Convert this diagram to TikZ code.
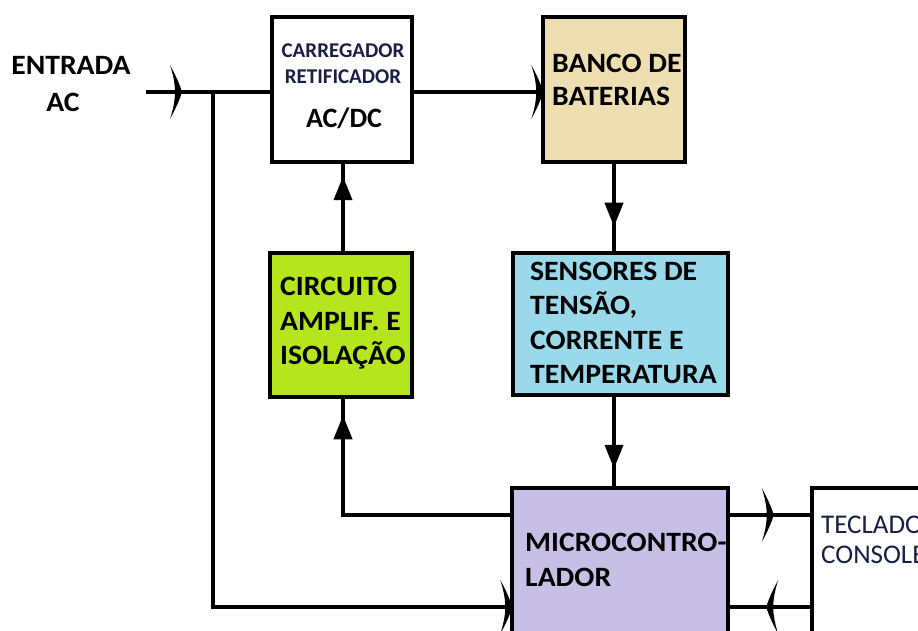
\documentclass[tikz,border=0pt]{standalone}
\usepackage{fontspec}
\setmainfont{Carlito}
\newfontfamily\widefont{Carlito}[FakeStretch=1.06]
\usetikzlibrary{arrows.meta,decorations.markings}
\definecolor{batcol}{RGB}{238,223,178}
\definecolor{sencol}{RGB}{153,217,234}
\definecolor{circol}{RGB}{181,230,29}
\definecolor{miccol}{RGB}{200,191,231}
\definecolor{navy}{RGB}{25,30,70}
\tikzset{
  blk/.style={draw=black,line width=3.5pt,rectangle,inner sep=0pt},
  wire/.style={line width=4pt},
  lbl/.style={anchor=base west,inner sep=0pt,font=\widefont\fontsize{28}{28}\selectfont\bfseries},
  clbl/.style={anchor=base,inner sep=0pt},
  tipat/.style 2 args={postaction={decorate},decoration={markings,mark=at position #1 with {\arrow{#2}}}},
  barbat/.style={postaction={decorate},decoration={markings,mark=at position #1 with {\fill (-10,-27) .. controls (-4,-16) and (0,-7) .. (2,0) .. controls (0,7) and (-4,16) .. (-10,27) .. controls (-6,15) and (-5,6) .. (-5,0) .. controls (-5,-6) and (-6,-15) .. (-10,-27) -- cycle;}}},
  tri/.tip={Triangle[width=18pt,length=24pt]}
}
\begin{document}
\begin{tikzpicture}[x=1pt,y=-1pt]
\useasboundingbox (0,0) rectangle (918,631);
\clip (0,0) rectangle (918,631);
% boxes
\node[blk,fill=white,minimum width=140pt,minimum height=145pt] (rect) at (342,89.5) {};
\node[blk,fill=batcol,minimum width=142pt,minimum height=145pt] (bat) at (614,89.5) {};
\node[blk,fill=circol,minimum width=142pt,minimum height=144pt] (circ) at (341,325) {};
\node[blk,fill=sencol,minimum width=215pt,minimum height=142pt] (sens) at (620.5,324) {};
\node[blk,fill=miccol,minimum width=216pt,minimum height=150pt] (micro) at (620,563) {};
\node[blk,fill=white,minimum width=120pt,minimum height=150pt] (tec) at (872,563) {};
% coordinates
\coordinate (in) at (146,92);
\coordinate (jn) at (213,92);
\coordinate (jb) at (213,607);
\coordinate (cb) at (343,515);
% wires
\draw[wire,barbat={34pt}] (in) -- (in -| rect.west);
\draw[wire,barbat={1}] (jn) -- (jb) -- (jb -| micro.west);
\draw[wire,barbat={1}] (rect.east |- in) -- (bat.west |- in);
\draw[wire,tipat={63pt}{tri}] (bat.south) -- (sens.north -| bat.south);
\draw[wire,tipat={72pt}{tri}] (sens.south -| bat.south) -- (micro.north -| bat.south);
\draw[wire,tipat={267pt}{tri}] (micro.west |- cb) -- (cb) -- (circ.south -| cb);
\draw[wire,tipat={75pt}{tri}] (circ.north -| cb) -- (rect.south -| cb);
\draw[wire,barbat={42pt}] (micro.east |- cb) -- (tec.west |- cb);
\draw[wire,barbat={42pt}] (tec.west |- jb) -- (micro.east |- jb);
% texts
\node[clbl,font=\widefont\fontsize{28}{28}\selectfont\bfseries] (t1) at (71,75) {ENTRADA};
\node[clbl,font=\widefont\fontsize{28}{28}\selectfont\bfseries] (t2) at (63,112) {AC};
\node[clbl,text=navy,font=\fontsize{21}{21}\selectfont\bfseries] (t3) at (343,58) {CARREGADOR};
\node[clbl,text=navy,font=\fontsize{21}{21}\selectfont\bfseries] (t4) at (343,84) {RETIFICADOR};
\node[clbl,font=\fontsize{28}{28}\selectfont\bfseries] (t5) at (344,128) {AC/DC};
\node[lbl] (t6) at (552,73) {BANCO DE};
\node[lbl] (t7) at (552,106) {BATERIAS};
\node[lbl] (t8) at (280,295) {CIRCUITO};
\node[lbl] (t9) at (280,330) {AMPLIF. E};
\node[lbl] (t10) at (280,364) {ISOLAÇÃO};
\node[lbl] (t11) at (530,280) {SENSORES DE};
\node[lbl] (t12) at (530,314) {TENSÃO,};
\node[lbl] (t13) at (530,349) {CORRENTE E};
\node[lbl] (t14) at (530,383) {TEMPERATURA};
\node[lbl] (t15) at (525,551) {MICROCONTRO-};
\node[lbl] (t16) at (525,586) {LADOR};
\node[lbl,text=navy,font=\fontsize{27}{27}\selectfont] (t17) at (821,533) {TECLADO};
\node[lbl,text=navy,font=\fontsize{27}{27}\selectfont] (t18) at (821,563) {CONSOLE};
\end{tikzpicture}
\end{document}
